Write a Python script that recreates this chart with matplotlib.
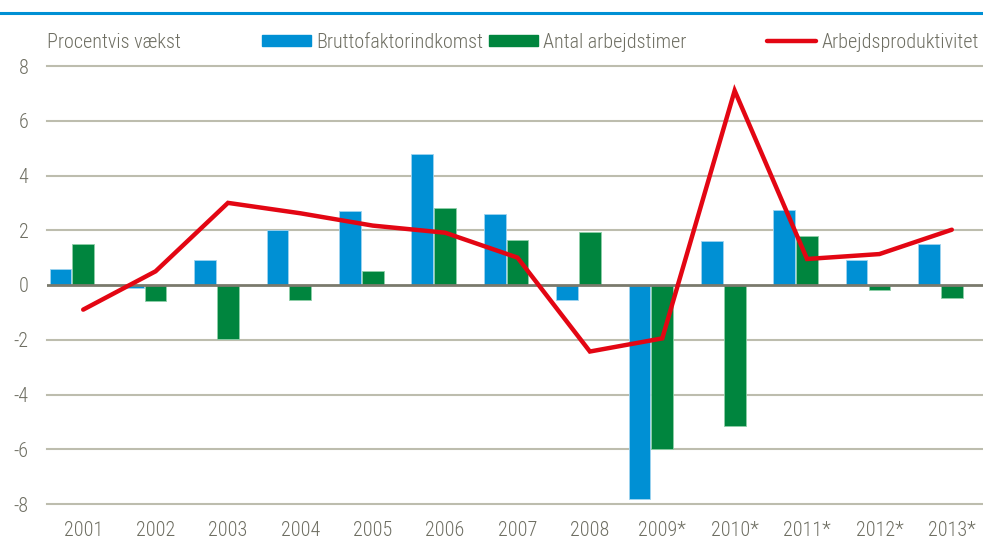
import matplotlib
matplotlib.use("Agg")
import matplotlib.pyplot as plt
from matplotlib.patches import Patch
from matplotlib.lines import Line2D
import numpy as np

years = ["2001", "2002", "2003", "2004", "2005", "2006", "2007", "2008",
         "2009*", "2010*", "2011*", "2012*", "2013*"]
bruttofaktor = [0.6, -0.1, 0.9, 2.0, 2.7, 4.8, 2.6, -0.55, -7.8, 1.6, 2.75, 0.9, 1.5]
arbejdstimer = [1.5, -0.6, -1.96, -0.56, 0.5, 2.82, 1.64, 1.95, -6.0, -5.14, 1.8, -0.18, -0.46]
produktivitet = [-0.9, 0.5, 3.0, 2.62, 2.17, 1.91, 1.0, -2.43, -1.95, 7.1, 0.95, 1.13, 2.02]
yticks = [-8, -6, -4, -2, 0, 2, 4, 6, 8]
series_names = ["Bruttofaktorindkomst", "Antal arbejdstimer", "Arbejdsproduktivitet"]

BLUE = "#0090D4"
GREEN = "#00853E"
RED = "#E30613"
GRID = "#BDBDAE"
ZERO = "#7A7A6C"
TXT = "#6E6E62"

plt.rcParams['font.family'] = ['Roboto Condensed', 'DejaVu Sans']
plt.rcParams['font.weight'] = 'light'
FS = 14.5

W, H = 983, 544
fig = plt.figure(figsize=(W / 100, H / 100), dpi=100)

def fx(px):
    return px / W

def fy(py):
    return 1 - py / H

y_top, y_bot = 66, 504
ax = fig.add_axes([fx(47), fy(y_bot), fx(988) - fx(47), fy(y_top) - fy(y_bot)])

x = np.arange(len(years))
bw = 0.30
ax.bar(x - 0.315, bruttofaktor, bw, color=BLUE, edgecolor="#9fd3ef", linewidth=0.6, zorder=3)
ax.bar(x, arbejdstimer, bw, color=GREEN, edgecolor="#8fcfa8", linewidth=0.6, zorder=3)
ax.plot(x, produktivitet, color=RED, lw=3.2, solid_joinstyle='miter',
        solid_capstyle='round', zorder=5)

ax.set_xlim(-0.5, len(years) - 0.5)
ax.set_ylim(-8, 8)
ax.set_yticks(yticks)
ax.set_yticklabels([str(v) for v in yticks])
ax.set_xticks(x)
ax.set_xticklabels(years)
for v in yticks:
    if v == 0:
        continue
    ax.axhline(v, color=GRID, lw=1.5, zorder=1, clip_on=False)
ax.axhline(0, color=ZERO, lw=2.0, zorder=4)

for s in ax.spines.values():
    s.set_visible(False)
ax.tick_params(axis='both', length=0, labelsize=FS, colors=TXT)
ax.tick_params(axis='y', pad=13.5)
ax.tick_params(axis='x', pad=12)

# top rule
fig.add_artist(Line2D([0, 1], [fy(13), fy(13)], color="#0090D4", lw=2.2,
                      transform=fig.transFigure))

fig.text(fx(47), fy(42), "Procentvis vækst", fontsize=FS, color=TXT,
         ha='left', va='center')

handles = [Patch(facecolor=BLUE, edgecolor=BLUE),
           Patch(facecolor=GREEN, edgecolor=GREEN),
           Line2D([0], [0], color=RED, lw=3.2, solid_capstyle='round')]
starts = [262, 489, 767]
for h, name, sx in zip(handles, series_names, starts):
    fig.legend([h], [name], loc='center left', bbox_to_anchor=(fx(sx), fy(42)),
               frameon=False, fontsize=FS, labelcolor=TXT,
               handlelength=2.45, handleheight=0.5, handletextpad=0.25,
               borderaxespad=0, borderpad=0)

fig.savefig("out.png", dpi=100)
